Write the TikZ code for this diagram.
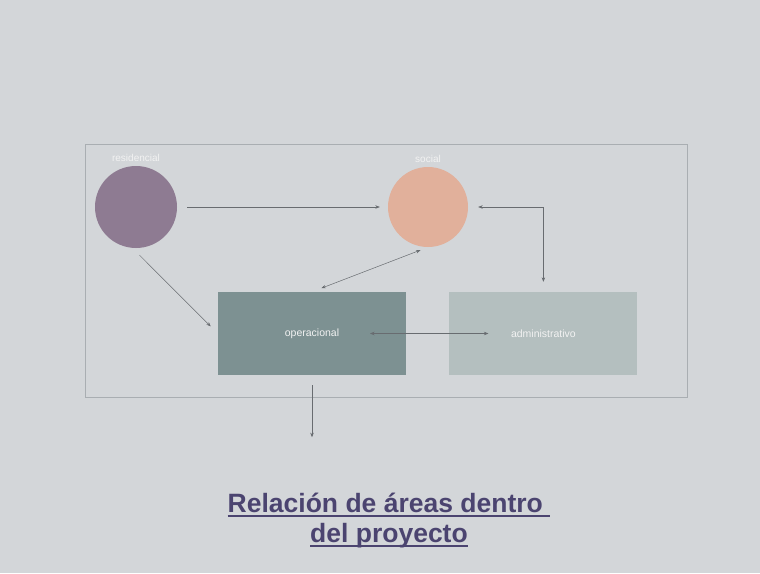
\documentclass[tikz,border=0pt]{standalone}
\usepackage{fontspec}
\setmainfont{Liberation Sans}
\usetikzlibrary{arrows.meta,positioning}
\definecolor{fondo}{HTML}{D3D6D9}
\definecolor{marco}{HTML}{A9AEB2}
\definecolor{morado}{HTML}{8E7B92}
\definecolor{salmon}{HTML}{E1B09B}
\definecolor{verdeos}{HTML}{7D9192}
\definecolor{verdecl}{HTML}{B4BFBF}
\definecolor{flecha}{HTML}{686C70}
\definecolor{titulo}{HTML}{4B4470}
\newsavebox\cajasub
\newcommand\subrayar[1]{\sbox\cajasub{#1}\rlap{\rule[-4.6pt]{\wd\cajasub}{2.2pt}}\usebox\cajasub}

\begin{document}
\begin{tikzpicture}[
  x=1pt,y=-1pt,
  area/.style={circle,minimum size=#1,inner sep=0pt},
  zona/.style={minimum width=188pt,minimum height=83pt,inner sep=0pt,
               text=white!95!black,font=\fontsize{10.5}{12}\selectfont},
  etiq/.style={text=white!95!black,font=\fontsize{10}{12}\selectfont,inner sep=1pt},
  arrow/.style={-{Stealth[length=4.5pt,width=3.5pt]},draw=flecha,line width=0.5pt},
  darrow/.style={{Stealth[length=4.5pt,width=3.5pt]}-{Stealth[length=4.5pt,width=3.5pt]},
                 draw=flecha,line width=0.5pt}
]
\useasboundingbox[fill=fondo] (0,0) rectangle (760,573);
\draw[marco,line width=0.9pt] (85,144) rectangle (687,397);

\node[area=82pt,fill=morado,label={[etiq,label distance=3.5pt]above:residencial}]
  (residencial) at (136,207) {};
\node[area=80pt,fill=salmon,label={[etiq,label distance=3.5pt]above:social}]
  (social) at (428,207) {};
\node[zona,fill=verdeos] (operacional) at (312,333.5) {operacional};
\node[zona,fill=verdecl,right=43pt of operacional] (administrativo) {administrativo};
\coordinate[below=62pt of operacional.south] (salida);

\draw[arrow,shorten <=10pt,shorten >=8pt] (residencial)--(social);
\draw[darrow,shorten <=10pt,shorten >=10pt] (social.east)-|(administrativo.north);
\draw[darrow,shorten <=8pt,shorten >=10pt] (social.south)--(operacional.north);
\draw[arrow,shorten <=10pt,shorten >=10pt] (residencial.-95)--(operacional.west);
\draw[darrow,shorten <=58pt,shorten >=55pt] (operacional.center)--(administrativo.center);
\draw[arrow,shorten <=10pt] (operacional.south)--(salida);

\node[anchor=base,align=center,text=titulo,
      font=\bfseries\fontsize{26.5}{30}\selectfont] (titulo) at (389,542.7)
  {\subrayar{Relación de áreas dentro\ }\\\subrayar{del proyecto}};
\end{tikzpicture}
\end{document}
